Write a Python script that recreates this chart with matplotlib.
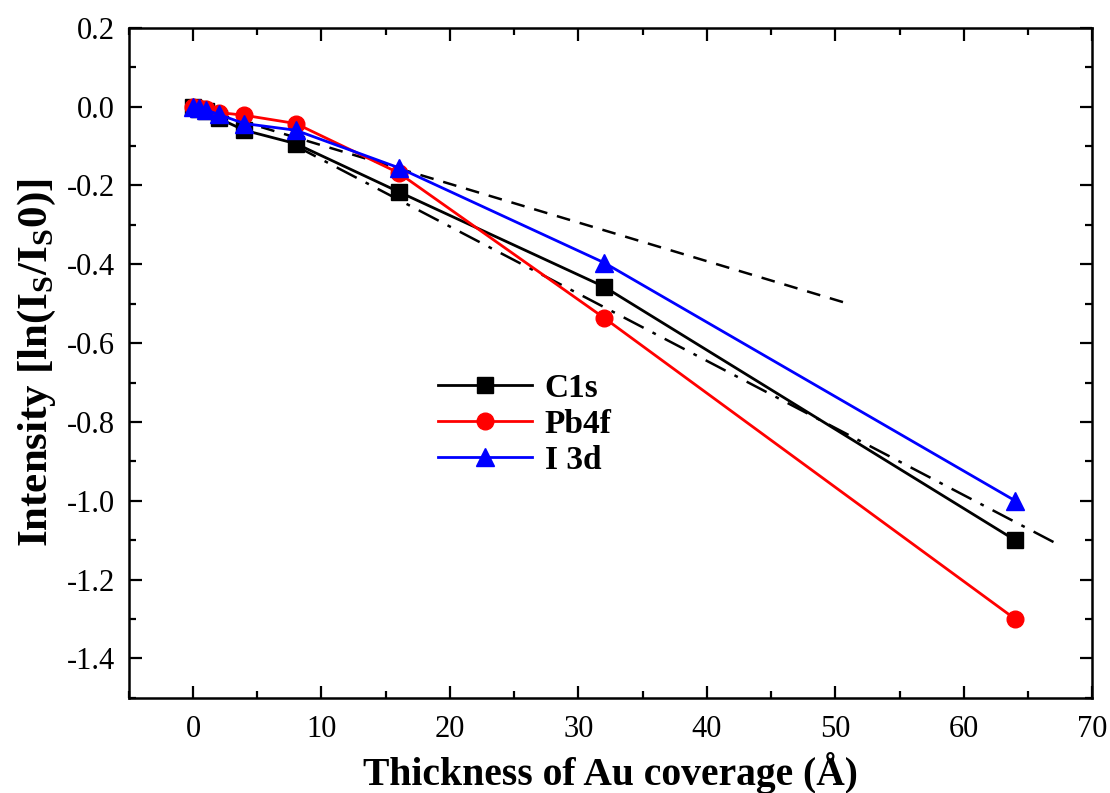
import matplotlib
matplotlib.use("Agg")
import matplotlib.pyplot as plt
from matplotlib.ticker import MultipleLocator

plt.rcParams["font.family"] = ["Liberation Serif", "DejaVu Serif"]
plt.rcParams["mathtext.fontset"] = "custom"
plt.rcParams["mathtext.rm"] = "Liberation Serif"
plt.rcParams["mathtext.bf"] = "Liberation Serif:bold"

# Au thickness (Angstrom)
thickness = [0, 0.5, 1, 2, 4, 8, 16, 32, 64]

# ln(Is/Is0) for each core level
c1s = [0.0, -0.005, -0.012, -0.03, -0.06, -0.094, -0.216, -0.457, -1.10]
pb4f = [0.0, -0.003, -0.006, -0.015, -0.022, -0.043, -0.168, -0.536, -1.30]
i3d = [0.0, -0.004, -0.008, -0.02, -0.043, -0.06, -0.155, -0.396, -1.00]

# guide lines (start/end points)
dash_x = [0, 51]
dash_y = [0.0, -0.5]
dashdot_x = [8, 67]
dashdot_y = [-0.1, -1.105]

fig, ax = plt.subplots(figsize=(11.1, 7.93), dpi=100)
fig.subplots_adjust(left=0.116, right=0.984, top=0.965, bottom=0.12)

ax.plot(dash_x, dash_y, color="black", ls=(0, (5.5, 4)), lw=1.8)
ax.plot(dashdot_x, dashdot_y, color="black", ls=(0, (9, 4, 1.5, 4)), lw=1.8)

ax.plot(thickness, c1s, color="black", marker="s", ms=11, lw=2, label="C1s")
ax.plot(thickness, pb4f, color="red", marker="o", ms=12, lw=2, label="Pb4f")
ax.plot(thickness, i3d, color="blue", marker="^", ms=13, lw=2, label="I 3d")

ax.set_xlim(-5, 70)
ax.set_ylim(-1.5, 0.2)
ax.xaxis.set_major_locator(MultipleLocator(10))
ax.xaxis.set_minor_locator(MultipleLocator(5))
ax.yaxis.set_major_locator(MultipleLocator(0.2))
ax.yaxis.set_minor_locator(MultipleLocator(0.1))
ax.yaxis.set_major_formatter(plt.FuncFormatter(lambda v, p: "%.1f" % v))

ax.tick_params(which="both", direction="in", top=True, right=True, width=1.6, labelsize=22)
ax.tick_params(which="major", length=9, pad=12)
ax.tick_params(which="minor", length=5)
ax.tick_params(axis="y", pad=10)
for s in ax.spines.values():
    s.set_linewidth(1.8)

ax.set_xlabel("Thickness of Au coverage (Å)", fontsize=28.5, fontweight="bold", labelpad=6)
ax.set_ylabel(r"Intensity [ln(I$_{\mathbf{S}}$/I$_{\mathbf{S}}$0)]", fontsize=31, fontweight="bold", labelpad=6)

leg = ax.legend(loc="upper left", bbox_to_anchor=(0.29, 0.53), frameon=False,
                handlelength=2.8, prop={"weight": "bold", "size": 24},
                labelspacing=0.15, handletextpad=0.4)

fig.savefig("out.png")
